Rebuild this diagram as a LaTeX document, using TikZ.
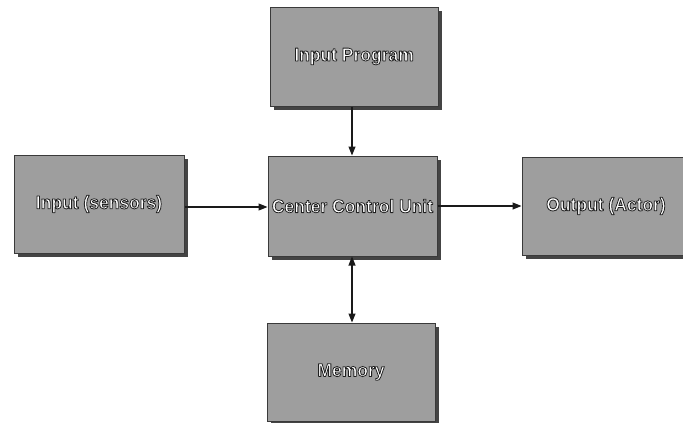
\documentclass[tikz,border=0pt]{standalone}
\usepackage{fontspec}
\setmainfont{Liberation Sans}
\usetikzlibrary{shadows,arrows.meta}

\definecolor{boxfill}{HTML}{9E9E9E}
\definecolor{boxedge}{HTML}{3A3A3A}
\definecolor{boxshade}{HTML}{444444}
\definecolor{wire}{HTML}{1A1A1A}

% white lettering with a thin dark rim (fill + stroke text rendering)
\newcommand\halotext[1]{\special{pdf:literal direct 1 g 0.12 G 0.8 w 1 j 2 Tr}#1\special{pdf:literal direct 0 Tr 0 g 0 G}}

\tikzset{
  unitbox/.style={rectangle, draw=boxedge, line width=1pt, fill=boxfill,
    minimum width=#1, minimum height=99pt, inner sep=0pt,
    font=\bfseries\fontsize{18.6pt}{20pt}\selectfont\addfontfeature{FakeStretch=0.94},
    drop shadow={shadow xshift=4pt, shadow yshift=-4pt, fill=boxshade, opacity=1}},
  unitbox/.default=169pt,
  flow/.style={draw=wire, line width=1.1pt, -{Triangle[length=9pt,width=7pt]}},
  flowboth/.style={draw=wire, line width=1.1pt, {Triangle[length=9pt,width=7pt]}-{Triangle[length=9pt,width=7pt]}},
}

\begin{document}
\begin{tikzpicture}[x=1pt,y=-1pt]
  \useasboundingbox (0,0) rectangle (683,423);
  \clip (0,0) rectangle (683,423);
  \fill[white] (0,0) rectangle (683,423);

  \node[unitbox=168pt] (prog) at (354,56.5) {\halotext{Input Program}};
  \node[unitbox=170pt, minimum height=98pt] (sens) at (99,204) {\halotext{Input (sensors)}};
  \node[unitbox=169pt, minimum height=100pt] (ccu) at (352.5,206) {\halotext{Center Control Unit}};
  \node[unitbox=168pt, minimum height=98pt] (out) at (606,206) {\halotext{Output (Actor)}};
  \node[unitbox=168pt, minimum height=98pt] (mem) at (351,372) {\halotext{Memory}};

  \draw[flow] (prog.south -| 352,0) -- (ccu.north -| 352,0);
  \draw[flow] (sens.east |- 0,207) -- (ccu.west |- 0,207);
  \draw[flow] (ccu.east |- 0,206) -- (out.west |- 0,206);
  \draw[flowboth] (ccu.south -| 352,0) -- (mem.north -| 352,0);
\end{tikzpicture}
\end{document}
